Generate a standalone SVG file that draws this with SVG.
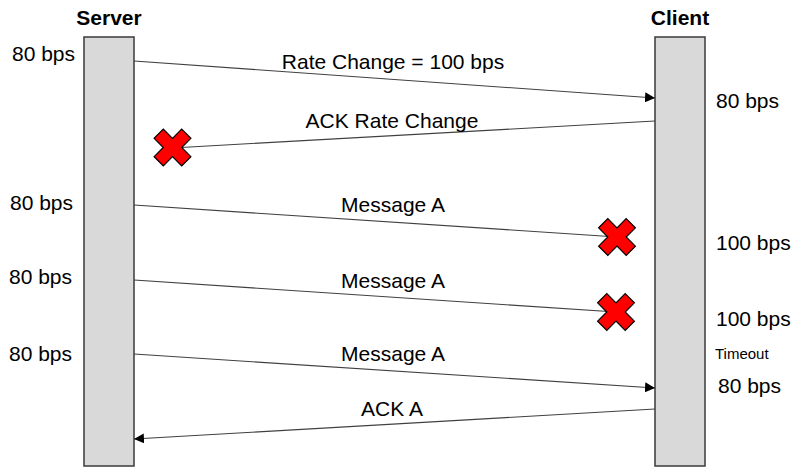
<svg xmlns="http://www.w3.org/2000/svg" width="796" height="467" viewBox="0 0 796 467">
<style>
.bar{fill:#d9d9d9;stroke:#3a3a3a;stroke-width:1.5}
.t{font-family:"Liberation Sans",Arial,sans-serif;font-size:21px;fill:#000}
.h{font-family:"Liberation Sans",Arial,sans-serif;font-size:21px;font-weight:bold;fill:#000;text-anchor:middle}
.c{text-anchor:middle}
.s{font-family:"Liberation Sans",Arial,sans-serif;font-size:15px;fill:#000}
.ln{stroke:#404040;stroke-width:1.1;fill:none}
.x{fill:#ff0000;stroke:#000;stroke-width:1.2;stroke-linejoin:miter}
</style>
<defs>
<marker id="ah" viewBox="0 0 10 10" refX="10" refY="5" markerWidth="10" markerHeight="10" markerUnits="userSpaceOnUse" orient="auto">
<path d="M0,0 L10,5 L0,10 z" fill="#000"/>
</marker>
<polygon id="xmark" class="x" transform="rotate(45)" points="-6.5,-19.5 6.5,-19.5 6.5,-6.5 19.5,-6.5 19.5,6.5 6.5,6.5 6.5,19.5 -6.5,19.5 -6.5,6.5 -19.5,6.5 -19.5,-6.5 -6.5,-6.5"/>
</defs>

<g id="server">
<rect class="bar" x="84" y="37" width="50" height="429"/>
<text class="h" x="109" y="25">Server</text>
</g>
<g id="client">
<rect class="bar" x="655" y="37" width="50" height="429"/>
<text class="h" x="680" y="25">Client</text>
</g>

<g id="connectors">
<line class="ln" x1="134" y1="61" x2="655" y2="98" marker-end="url(#ah)"/>
<line class="ln" x1="655" y1="121" x2="172" y2="148"/>
<line class="ln" x1="134" y1="205" x2="617" y2="237"/>
<line class="ln" x1="134" y1="280" x2="616" y2="312"/>
<line class="ln" x1="134" y1="354" x2="655" y2="388" marker-end="url(#ah)"/>
<line class="ln" x1="655" y1="409" x2="134" y2="439" marker-end="url(#ah)"/>
</g>

<g id="marks">
<use href="#xmark" transform="translate(172.5,147.5)"/>
<use href="#xmark" transform="translate(617,237)"/>
<use href="#xmark" transform="translate(616,312)"/>
</g>

<g id="labels">
<text class="t c" x="393" y="69">Rate Change = 100 bps</text>
<text class="t c" x="392" y="128">ACK Rate Change</text>
<text class="t c" x="393" y="212">Message A</text>
<text class="t c" x="393" y="288">Message A</text>
<text class="t c" x="393" y="361">Message A</text>
<text class="t c" x="392" y="416">ACK A</text>

<text class="t" x="12" y="61">80 bps</text>
<text class="t" x="10" y="210">80 bps</text>
<text class="t" x="9" y="284">80 bps</text>
<text class="t" x="9" y="361">80 bps</text>

<text class="t" x="716" y="108">80 bps</text>
<text class="t" x="716" y="250">100 bps</text>
<text class="t" x="716" y="326">100 bps</text>
<text class="s" x="715" y="359">Timeout</text>
<text class="t" x="718" y="393">80 bps</text>
</g>
</svg>
